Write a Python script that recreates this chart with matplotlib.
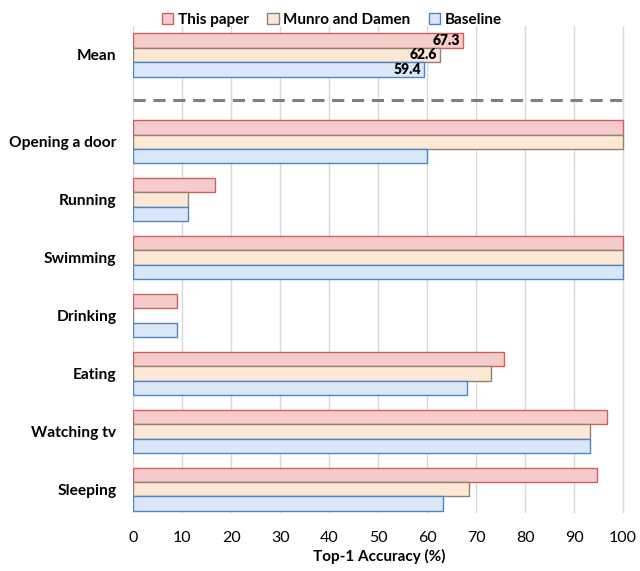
import matplotlib
matplotlib.use('Agg')
import matplotlib.pyplot as plt
import numpy as np

plt.rcParams['font.family'] = ['Lato', 'DejaVu Sans']

# categories top to bottom
categories = ['Mean', 'Opening a door', 'Running', 'Swimming', 'Drinking',
              'Eating', 'Watching tv', 'Sleeping']
this_paper = [67.3, 100, 16.7, 100, 8.9, 75.6, 96.8, 94.7]
munro_damen = [62.6, 100, 11.1, 100, 0, 73.0, 93.3, 68.5]
baseline = [59.4, 60.0, 11.1, 100, 8.9, 68.2, 93.3, 63.2]
series_names = ['This paper', 'Munro and Damen', 'Baseline']
xticks = [0, 10, 20, 30, 40, 50, 60, 70, 80, 90, 100]

faces = ['#F6CBCB', '#FDE7D5', '#DAE7F8']
edges = ['#D0605E', '#8A8478', '#4C86C6']

# positions: Sleeping=0 ... Opening a door=6, gap, Mean=7.5
ypos = np.array([7.5, 6, 5, 4, 3, 2, 1, 0])
sep_y = 6.72
h = 0.25

fig = plt.figure(figsize=(6.4, 5.71), dpi=100)
ax = fig.add_axes([0.208, 0.1016, 0.7695, 0.853])

for k, vals in enumerate([this_paper, munro_damen, baseline]):
    off = (1 - k) * h
    ax.barh(ypos + off, vals, height=h, color=faces[k], edgecolor=edges[k],
            linewidth=1.0, label=series_names[k], zorder=3)
    # value label on Mean bar
    ax.text(vals[0] - 0.6, ypos[0] + off, '%.1f' % vals[0], ha='right', va='center',
            fontsize=10, fontweight='heavy', color='black', zorder=4)

ax.plot([0, 100], [sep_y, sep_y], color='#7F7F7F', lw=2.2, ls=(0, (4, 2.5)), zorder=3)

ax.set_xlim(0, 100.5)
ax.set_ylim(-0.41, 8.0)
ax.set_xticks(xticks)
ax.set_xticklabels([str(t) for t in xticks], fontsize=11.5)
ax.set_yticks(ypos)
ax.set_yticklabels(categories, fontsize=11.2, fontweight='bold')
ax.tick_params(length=0, pad=12)
ax.tick_params(axis='x', pad=13)
ax.grid(axis='x', color='#D9D9D9', lw=1, zorder=0)
for s in ax.spines.values():
    s.set_visible(False)
ax.set_xlabel('Top-1 Accuracy (%)', fontsize=11, fontweight='bold', labelpad=3)

leg = ax.legend(loc='lower center', bbox_to_anchor=(0.404, 0.985), ncol=3, frameon=False,
                prop={'size': 11, 'weight': 'bold'}, handlelength=0.75, handleheight=0.75,
                handletextpad=0.3, columnspacing=1.2, borderaxespad=0)

fig.savefig('out.png', dpi=100)
